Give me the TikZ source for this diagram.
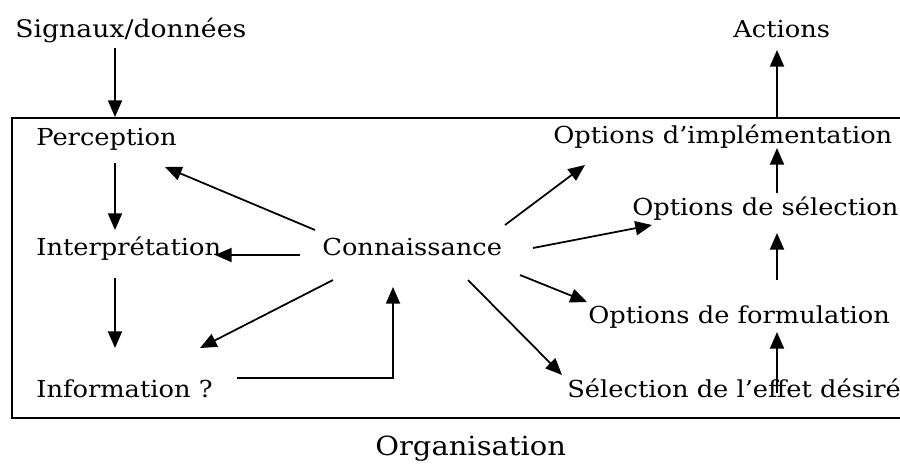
\documentclass[tikz,border=0pt]{standalone}
\usepackage{fontspec}
\setmainfont{DejaVu Serif}[FakeStretch=1.1]
\usetikzlibrary{arrows.meta}

\begin{document}
\begin{tikzpicture}[x=0.02cm, y=-0.02cm,
                    every node/.style={anchor=base west, inner sep=0pt, font=\fontsize{13.3}{16}\selectfont},
                    every edge/.style={draw, line width=1pt, -{Triangle[length=9.5pt, width=8pt]}}]

                    \clip (0,0) rectangle (900,464);
                    \draw[line width=0.8pt] (12,118) rectangle (910,418); % frame of the organisation

                    % Define nodes
                    \node[font=\fontsize{13.8}{16}\selectfont] (sig) at (15,37) {Signaux/données}; % input
                    \node (act) at (733,37) {Actions}; % output
                    \node (perc) at (36,145) {Perception}; % left column
                    \node (interp) at (36,255) {Interprétation}; % left column
                    \node (info) at (36,397) {Information ?}; % left column
                    \node (conn) at (322,255) {Connaissance}; % hub
                    \node (impl) at (553,143) {Options d’implémentation}; % right column
                    \node (sel) at (632,215) {Options de sélection}; % right column
                    \node (form) at (588,323) {Options de formulation}; % right column
                    \node (eff) at (567,397) {Sélection de l’effet désiré}; % right column
                    \node[font=\fontsize{15}{18}\selectfont] (org) at (375,455) {Organisation}; % caption under the frame

                    % Define edges
                    \path ([shift={(100,11)}]sig.base west) edge ([shift={(79,-28)}]perc.base west);
                    \path ([shift={(79,18)}]perc.base west) edge ([shift={(79,-25)}]interp.base west);
                    \path ([shift={(79,23)}]interp.base west) edge ([shift={(79,-49)}]info.base west);
                    \path ([shift={(-7,-25)}]conn.base west) edge ([shift={(129,22)}]perc.base west);
                    \path ([shift={(-22,0)}]conn.base west) edge ([shift={(179,0)}]interp.base west);
                    \path ([shift={(11,25)}]conn.base west) edge ([shift={(164,-49)}]info.base west);
                    \draw[line width=1pt, -{Triangle[length=9.5pt, width=8pt]}]
                        ([shift={(201,-19)}]info.base west) -| ([shift={(71,32)}]conn.base west);
                    \path ([shift={(183,-30)}]conn.base west) edge ([shift={(32,22)}]impl.base west);
                    \path ([shift={(211,-7)}]conn.base west) edge ([shift={(20,10)}]sel.base west);
                    \path ([shift={(198,20)}]conn.base west) edge ([shift={(-1,-21)}]form.base west);
                    \path ([shift={(146,25)}]conn.base west) edge ([shift={(-5,-22)}]eff.base west);
                    \path ([shift={(210,-4)}]eff.base west) edge ([shift={(189,9)}]form.base west);
                    \path ([shift={(189,-43)}]form.base west) edge ([shift={(145,18)}]sel.base west);
                    \path ([shift={(145,-22)}]sel.base west) edge ([shift={(224,5)}]impl.base west);
                    \path ([shift={(224,-25)}]impl.base west) edge ([shift={(44,13)}]act.base west);
                \end{tikzpicture}
\end{document}
